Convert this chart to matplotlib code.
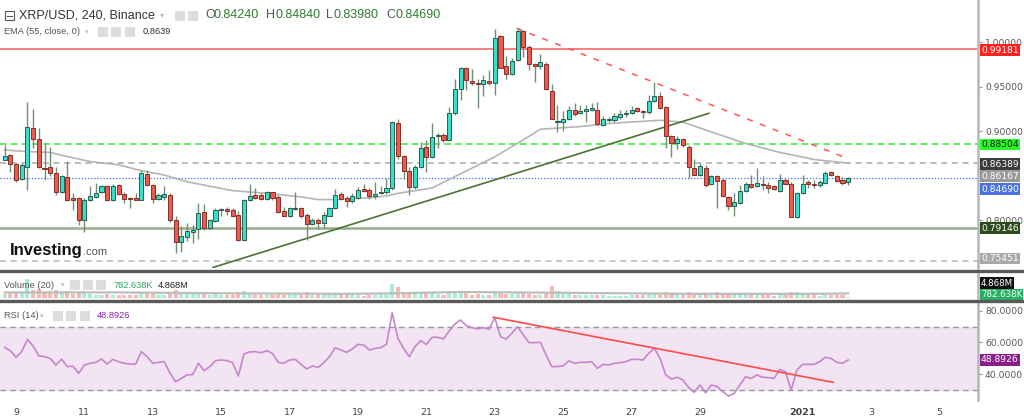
import matplotlib
matplotlib.use("Agg")
import matplotlib.pyplot as plt
from matplotlib.patches import Rectangle
from matplotlib.lines import Line2D
import numpy as np

# 4h candles, first one Dec 8 16:00; x axis counts days from Dec 9 00:00
opens = [0.868, 0.873, 0.863, 0.846, 0.860, 0.903, 0.891, 0.859, 0.860, 0.853,
         0.831, 0.848, 0.825, 0.825, 0.800, 0.822, 0.826, 0.831, 0.838, 0.822,
         0.839, 0.829, 0.825, 0.825, 0.823, 0.852, 0.839, 0.824, 0.826, 0.828,
         0.800, 0.775, 0.781, 0.786, 0.790, 0.809, 0.791, 0.799, 0.811, 0.812,
         0.811, 0.806, 0.777, 0.822, 0.828, 0.828, 0.824, 0.831, 0.826, 0.810,
         0.804, 0.812, 0.813, 0.806, 0.795, 0.800, 0.797, 0.805, 0.813, 0.829,
         0.825, 0.821, 0.825, 0.835, 0.834, 0.827, 0.830, 0.831, 0.836, 0.909,
         0.872, 0.855, 0.837, 0.860, 0.882, 0.871, 0.894, 0.895, 0.890, 0.920,
         0.947, 0.971, 0.956, 0.954, 0.953, 0.956, 0.954, 1.007, 0.973, 0.964,
         0.980, 1.012, 0.994, 0.975, 0.973, 0.975, 0.945, 0.910, 0.910, 0.913,
         0.924, 0.920, 0.923, 0.924, 0.924, 0.907, 0.912, 0.912, 0.916, 0.919,
         0.920, 0.926, 0.923, 0.921, 0.934, 0.939, 0.927, 0.894, 0.887, 0.891,
         0.882, 0.859, 0.851, 0.859, 0.840, 0.849, 0.845, 0.826, 0.816, 0.819,
         0.833, 0.841, 0.838, 0.840, 0.839, 0.838, 0.833, 0.845, 0.841, 0.803,
         0.830, 0.843, 0.841, 0.839, 0.842, 0.854, 0.850, 0.845, 0.8424]
highs = [0.884, 0.874, 0.864, 0.864, 0.933, 0.925, 0.903, 0.887, 0.882, 0.860,
         0.851, 0.866, 0.830, 0.826, 0.825, 0.838, 0.842, 0.839, 0.839, 0.841,
         0.841, 0.831, 0.826, 0.830, 0.856, 0.856, 0.840, 0.830, 0.838, 0.830,
         0.804, 0.793, 0.797, 0.794, 0.819, 0.818, 0.801, 0.813, 0.813, 0.815,
         0.813, 0.810, 0.824, 0.840, 0.836, 0.830, 0.833, 0.832, 0.828, 0.815,
         0.815, 0.831, 0.815, 0.808, 0.802, 0.802, 0.809, 0.815, 0.835, 0.832,
         0.827, 0.830, 0.837, 0.840, 0.836, 0.843, 0.838, 0.847, 0.911, 0.913,
         0.873, 0.860, 0.862, 0.888, 0.890, 0.909, 0.898, 0.898, 0.927, 0.959,
         0.972, 0.972, 0.970, 0.959, 0.963, 0.969, 1.015, 1.008, 0.984, 0.982,
         1.016, 1.014, 0.997, 0.976, 0.987, 0.978, 0.953, 0.929, 0.923, 0.928,
         0.932, 0.929, 0.929, 0.932, 0.933, 0.917, 0.916, 0.920, 0.924, 0.924,
         0.928, 0.927, 0.924, 0.941, 0.955, 0.944, 0.928, 0.895, 0.894, 0.892,
         0.884, 0.869, 0.864, 0.862, 0.851, 0.851, 0.847, 0.827, 0.830, 0.839,
         0.843, 0.851, 0.859, 0.849, 0.843, 0.839, 0.852, 0.847, 0.843, 0.832,
         0.851, 0.845, 0.845, 0.845, 0.855, 0.855, 0.851, 0.848, 0.8484]
lows = [0.867, 0.854, 0.843, 0.845, 0.834, 0.881, 0.858, 0.845, 0.849, 0.828,
        0.830, 0.821, 0.811, 0.794, 0.787, 0.821, 0.825, 0.830, 0.821, 0.821,
        0.828, 0.819, 0.813, 0.822, 0.822, 0.838, 0.819, 0.823, 0.822, 0.798,
        0.763, 0.764, 0.776, 0.774, 0.779, 0.789, 0.790, 0.798, 0.804, 0.806,
        0.803, 0.776, 0.776, 0.821, 0.824, 0.822, 0.822, 0.822, 0.808, 0.804,
        0.803, 0.811, 0.802, 0.778, 0.794, 0.790, 0.791, 0.804, 0.812, 0.822,
        0.815, 0.819, 0.824, 0.832, 0.824, 0.824, 0.829, 0.829, 0.834, 0.869,
        0.846, 0.828, 0.835, 0.859, 0.854, 0.870, 0.881, 0.888, 0.889, 0.918,
        0.935, 0.946, 0.952, 0.926, 0.939, 0.952, 0.941, 0.971, 0.959, 0.963,
        0.979, 0.983, 0.969, 0.955, 0.970, 0.946, 0.913, 0.899, 0.900, 0.912,
        0.917, 0.919, 0.910, 0.922, 0.907, 0.906, 0.910, 0.910, 0.914, 0.916,
        0.919, 0.921, 0.915, 0.919, 0.933, 0.925, 0.881, 0.871, 0.880, 0.882,
        0.847, 0.851, 0.850, 0.837, 0.839, 0.814, 0.826, 0.811, 0.805, 0.818,
        0.832, 0.836, 0.837, 0.834, 0.830, 0.834, 0.832, 0.839, 0.803, 0.802,
        0.829, 0.836, 0.836, 0.837, 0.841, 0.849, 0.843, 0.839, 0.8398]
closes = [0.872, 0.863, 0.845, 0.862, 0.905, 0.891, 0.860, 0.857, 0.853, 0.832,
          0.849, 0.823, 0.823, 0.800, 0.822, 0.827, 0.830, 0.838, 0.822, 0.838,
          0.829, 0.824, 0.824, 0.823, 0.853, 0.839, 0.824, 0.828, 0.829, 0.800,
          0.775, 0.782, 0.788, 0.789, 0.808, 0.791, 0.800, 0.811, 0.812, 0.810,
          0.805, 0.777, 0.822, 0.827, 0.825, 0.824, 0.832, 0.825, 0.809, 0.805,
          0.813, 0.814, 0.804, 0.795, 0.800, 0.797, 0.806, 0.814, 0.828, 0.824,
          0.821, 0.827, 0.834, 0.833, 0.827, 0.829, 0.831, 0.836, 0.910, 0.872,
          0.855, 0.837, 0.860, 0.881, 0.871, 0.893, 0.896, 0.890, 0.920, 0.947,
          0.971, 0.957, 0.954, 0.953, 0.957, 0.954, 1.005, 0.971, 0.964, 0.979,
          1.012, 0.994, 0.975, 0.973, 0.977, 0.947, 0.914, 0.911, 0.913, 0.924,
          0.919, 0.923, 0.924, 0.926, 0.908, 0.914, 0.914, 0.917, 0.919, 0.920,
          0.924, 0.923, 0.921, 0.934, 0.939, 0.926, 0.894, 0.887, 0.891, 0.884,
          0.860, 0.851, 0.861, 0.839, 0.849, 0.844, 0.827, 0.816, 0.820, 0.833,
          0.841, 0.837, 0.842, 0.839, 0.836, 0.835, 0.845, 0.840, 0.803, 0.830,
          0.841, 0.841, 0.839, 0.843, 0.853, 0.851, 0.844, 0.842, 0.8469]
volumes = [4, 5, 6, 5, 20, 9, 10, 7, 8, 9,
           6, 8, 4, 7, 6, 4, 3, 3, 4, 3,
           3, 3, 3, 3, 6, 5, 4, 3, 3, 5,
           9, 6, 4, 4, 6, 5, 3, 4, 3, 3,
           3, 6, 8, 5, 3, 3, 3, 3, 4, 3,
           3, 4, 3, 6, 3, 3, 4, 4, 5, 3,
           3, 3, 3, 2, 3, 3, 3, 3, 15, 12,
           7, 7, 6, 6, 5, 6, 4, 3, 5, 7,
           7, 5, 3, 4, 3, 3, 8, 6, 4, 4,
           7, 6, 4, 3, 3, 5, 13, 8, 4, 4,
           3, 3, 3, 3, 3, 3, 2, 2, 2, 2,
           3, 3, 3, 4, 4, 3, 7, 5, 4, 3,
           6, 4, 3, 5, 3, 6, 5, 4, 4, 5,
           3, 4, 5, 3, 3, 2, 4, 3, 7, 6,
           4, 3, 3, 2, 4, 3, 3, 3, 0.78]
vol_ma_idx = [0, 20, 40, 60, 68, 80, 100, 120, 140, 148]
vol_ma = [6.0, 6.0, 5.0, 4.5, 5.0, 6.5, 5.5, 4.5, 4.5, 4.9]

ema_idx = [0, 4, 8, 11, 15, 20, 24, 28, 32, 35, 40, 46, 52, 55, 58, 64, 67, 69,
           75, 80, 86, 91, 94, 101, 107, 115, 119, 124, 130, 136, 142, 148]
ema_vals = [0.8787, 0.8768, 0.876, 0.8713, 0.8657, 0.862, 0.8554, 0.8506, 0.843,
            0.8393, 0.833, 0.830, 0.826, 0.823, 0.823, 0.825, 0.827, 0.830, 0.836,
            0.852, 0.871, 0.890, 0.902, 0.905, 0.909, 0.912, 0.910, 0.899, 0.886,
            0.876, 0.868, 0.8639]

rsi = [56.9, 54.8, 50.6, 54.2, 62.0, 57.8, 51.6, 51.0, 49.9, 45.7,
       49.5, 44.7, 44.9, 40.4, 45.7, 46.8, 47.4, 49.5, 46.3, 49.3,
       47.8, 46.8, 46.3, 46.3, 54.2, 51.0, 46.8, 47.4, 47.8, 40.8,
       35.1, 37.2, 39.4, 39.6, 46.8, 42.1, 44.7, 48.5, 48.9, 48.5,
       47.2, 38.7, 52.7, 54.0, 54.2, 53.5, 54.8, 53.1, 47.4, 46.8,
       48.9, 49.3, 46.1, 43.2, 45.1, 44.2, 47.2, 51.0, 56.7, 55.2,
       53.8, 55.9, 58.8, 58.4, 55.2, 56.3, 56.7, 58.8, 78.9, 62.6,
       56.3, 51.0, 57.4, 61.2, 58.8, 63.3, 63.3, 62.2, 67.3, 71.7,
       74.3, 70.7, 69.4, 68.6, 69.4, 68.4, 75.8, 63.7, 62.2, 65.8,
       70.1, 64.8, 59.9, 59.9, 60.1, 52.1, 44.7, 44.7, 45.3, 48.3,
       46.8, 47.4, 47.4, 47.8, 43.6, 46.1, 45.7, 46.8, 47.2, 47.8,
       49.3, 49.3, 48.9, 53.1, 56.3, 49.9, 39.4, 36.8, 37.9, 36.2,
       31.5, 28.4, 33.0, 28.1, 33.0, 32.0, 28.8, 26.0, 27.7, 33.0,
       38.3, 37.2, 39.4, 37.9, 37.7, 37.2, 43.0, 41.5, 29.8, 42.5,
       46.1, 46.1, 46.1, 47.8, 50.6, 49.9, 47.4, 46.8, 48.9]

# horizontal levels drawn on the price panel
level_red = 0.99181
level_green = 0.88504
level_gray = 0.86389
level_last = 0.84690
level_support = 0.79146
level_low = 0.75451

# trend lines: (day, value) end points
support_line = ([5.76, 20.26], [0.7467, 0.9199])
resist_line = ([14.64, 24.19], [1.0154, 0.8711])
rsi_line = ([13.96, 23.9], [76.0, 34.7])

tick_days = [0, 2, 4, 6, 8, 10, 12, 14, 16, 18, 20, 23, 25, 27]
tick_labels = ['9', '11', '13', '15', '17', '19', '21', '23', '25', '27', '29',
               '2021', '3', '5']

price_ticks = [0.80, 0.90, 0.95, 1.00]
rsi_ticks = [40, 60, 80]

W, H = 1024, 420


def fx(x):
    return x / W


def fy(y):
    return 1 - y / H


fig = plt.figure(figsize=(W / 100, H / 100), dpi=100)
fig.patch.set_facecolor('white')
ax = fig.add_axes([0, fy(268), fx(978), 268 / H])
axv = fig.add_axes([0, fy(298), fx(978), 26 / H], sharex=ax)
axr = fig.add_axes([0, fy(400), fx(978), 98 / H], sharex=ax)

n = len(closes)
t = np.array([-1 / 3 + i / 6 for i in range(n)])
o = np.array(opens)
c = np.array(closes)
up = c >= o

UP_BODY, UP_EDGE = '#35dfc9', '#2d5d4e'
DN_BODY, DN_EDGE = '#ef5a4e', '#86302a'
WICK = '#6f8f74'

# price panel
ax.vlines(t, lows, highs, color=WICK, lw=1.0, zorder=3)
body_h = np.maximum(np.abs(c - o), 0.0012)
body_b = np.minimum(c, o)
ax.bar(t[up], body_h[up], bottom=body_b[up], width=0.12, color=UP_BODY,
       edgecolor=UP_EDGE, linewidth=0.7, zorder=4)
ax.bar(t[~up], body_h[~up], bottom=body_b[~up], width=0.12, color=DN_BODY,
       edgecolor=DN_EDGE, linewidth=0.7, zorder=4)

ax.plot(t[ema_idx], ema_vals, color='#b5b5b5', lw=1.2, zorder=2)

ax.axhline(level_red, color='#ff6b6b', lw=1.2, zorder=1)
ax.axhline(level_green, color='#3ff03f', lw=1.2, dashes=(4, 2.5), zorder=1)
ax.axhline(level_gray, color='#a8a8a8', lw=1.1, dashes=(4, 3), zorder=1)
ax.axhline(level_last, color='#4169e1', lw=0.9, dashes=(1, 1.5), zorder=1)
ax.axhline(level_support, color='#9aab8c', lw=1.8, zorder=1)
ax.axhline(level_low, color='#b8b8b8', lw=1.1, dashes=(4, 3), zorder=1)
ax.plot(*support_line, color='#4b7332', lw=1.2, zorder=2)
ax.plot(*resist_line, color='#ff5757', lw=1.1, dashes=(4, 5), zorder=2)

ax.set_ylim(0.7461, 1.0472)
ax.set_xlim(-0.468, 28.13)

# volume panel
vcol = np.where(up, '#a9ecd9', '#f7b9b4')
axv.bar(t, volumes, width=0.12, color=vcol, zorder=2)
axv.plot(t[vol_ma_idx], vol_ma, color='#bdbdbd', lw=1.6, zorder=3)
axv.set_ylim(0, 28)

# rsi panel
axr.axhspan(30, 70, color='#f2e4f2', zorder=0)
axr.axhline(70, color='#9a9a9a', lw=1.0, dashes=(4, 3))
axr.axhline(30, color='#9a9a9a', lw=1.0, dashes=(4, 3))
axr.plot(t, rsi, color='#c586cc', lw=1.2, zorder=3)
axr.plot(*rsi_line, color='#ff4a4a', lw=1.2, zorder=4)
axr.set_ylim(23.5, 85.7)

for a in (ax, axv, axr):
    a.set_facecolor('none')
    for s in ('top', 'left', 'bottom'):
        a.spines[s].set_visible(False)
    a.spines['right'].set_color('#b5b5b5')
    a.spines['right'].set_linewidth(1.8)
    a.yaxis.tick_right()
    a.tick_params(axis='y', direction='out', length=3, color='#999999',
                  labelsize=6.6, labelcolor='#555555', pad=2)
    a.tick_params(axis='x', length=0)

ax.set_yticks(price_ticks)
ax.set_yticklabels([f'{v:.5f}' for v in price_ticks])
axv.set_yticks([])
axr.set_yticks(rsi_ticks)
axr.set_yticklabels([f'{v:.4f}' for v in rsi_ticks])
ax.tick_params(axis='x', labelbottom=False)
axv.tick_params(axis='x', labelbottom=False)
axr.set_xticks(tick_days)
axr.set_xticklabels(tick_labels)
axr.tick_params(axis='x', labelsize=6.8, labelcolor='#444444', pad=6)
for lab in axr.get_xticklabels():
    if lab.get_text() == '2021':
        lab.set_fontweight('bold')


# value badges on the right scale
def badge(a, yv, text, bg, fg='white', size=6.6):
    a.text(1.003, yv, text, transform=a.get_yaxis_transform(), ha='left',
           va='center', fontsize=size, color=fg, clip_on=False, zorder=10,
           bbox=dict(boxstyle='square,pad=0.14', fc=bg, ec='none'))


badge(ax, 0.9908, '0.99181', '#ff2020')
badge(ax, 0.88504, '0.88504', '#22ff22', '#111111')
badge(ax, 0.8629, '0.86389', '#3c3c3c')
badge(ax, 0.8494, '0.86167', '#9a9a9a')
badge(ax, 0.8348, '0.84690', '#4a74e0')
badge(ax, 0.7910, '0.79146', '#2c4a1c')
badge(ax, 0.7566, '0.75451', '#a9a9a9')
badge(axv, 16, '4.868M', '#111111', size=6.2)
badge(axv, 3.5, '782.638K', '#27b063', size=6.2)
badge(axr, 48.8926, '48.8926', '#8a1f8a')

# panel separators
for yy in (270.5, 300.5):
    fig.add_artist(Line2D([0, 1], [fy(yy), fy(yy)], transform=fig.transFigure,
                          color='#5a5a5a', lw=2.4))


def icon_boxes(xs, yc, size=10):
    for x0 in xs:
        fig.add_artist(Rectangle((fx(x0), fy(yc + size / 2)), size / W, size / H,
                                 transform=fig.transFigure, fc='#dddddd', ec='none'))


def ftext(x, y, s, **kw):
    fig.text(fx(x), fy(y), s, va='center', ha='left', **kw)


# header row 1
fig.add_artist(Rectangle((fx(5), fy(20)), 9 / W, 9 / H, transform=fig.transFigure,
                         fc='white', ec='#555555', lw=0.8))
fig.add_artist(Line2D([fx(7), fx(12)], [fy(15.5), fy(15.5)],
                      transform=fig.transFigure, color='#555555', lw=0.8))
hf = dict(family='Liberation Sans', fontsize=9)
ftext(19, 15.5, 'XRP/USD, 240, Binance', color='#333333', **hf)
ftext(160, 15, '\u25be', color='#bbbbbb', fontsize=6)
icon_boxes([175, 188], 16)
for xl, lab, xv, val in [(205, 'O', 214, '0.84240'), (266, 'H', 275, '0.84840'),
                         (326, 'L', 333, '0.83980'), (386, 'C', 395, '0.84690')]:
    ftext(xl, 15.5, lab, color='#555555', **hf)
    ftext(xv, 15.5, val, color='#2e7d32', **hf)

# header row 2
sf = dict(family='Liberation Sans', fontsize=6.7)
ftext(4, 32, 'EMA (55, close, 0)', color='#555555', **sf)
ftext(85, 32, '\u25be', color='#bbbbbb', fontsize=5)
icon_boxes([98, 111, 125], 32)
ftext(143, 32, '0.8639', color='#333333', **sf)

# volume label
ftext(4, 285, 'Volume (20)', color='#555555', **sf)
ftext(61, 285, '\u25be', color='#bbbbbb', fontsize=5)
icon_boxes([70, 83, 96], 285)
ftext(114, 285, '782.638K', color='#2aa860', **sf)
ftext(158, 285, '4.868M', color='#222222', **sf)

# rsi label
ftext(4, 316, 'RSI (14)', color='#555555', **sf)
ftext(40, 316, '\u25be', color='#bbbbbb', fontsize=5)
icon_boxes([53, 66, 80], 316)
ftext(97, 316, '48.8926', color='#8e24aa', **sf)

# logo
fig.text(fx(10), fy(250), 'Investing', family='Liberation Sans', fontweight='bold',
         fontsize=12, color='#111111', va='center', ha='left')
fig.text(fx(83), fy(252), '.com', family='Liberation Sans', fontsize=8,
         color='#555555', va='center', ha='left')

fig.savefig('out.png', dpi=100, facecolor='white')
